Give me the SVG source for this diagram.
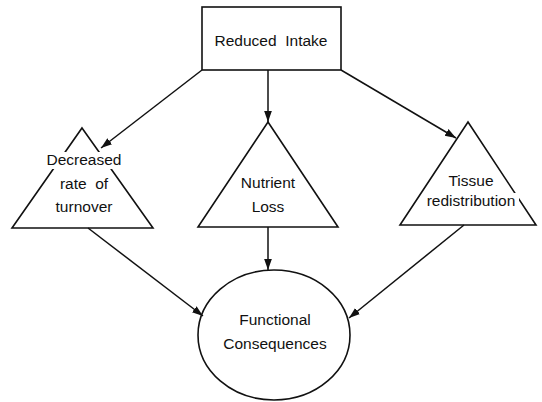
<svg xmlns="http://www.w3.org/2000/svg" width="542" height="402" viewBox="0 0 542 402">
<style>
.shape{fill:none;stroke:#111;stroke-width:1.6}
.edge{fill:none;stroke:#111;stroke-width:1.5}
text{font-family:"Liberation Sans",Arial,sans-serif;font-size:15.5px;fill:#111;text-anchor:middle}
.bg{fill:#fff;stroke:none}
</style>
<defs>
<marker id="ah" viewBox="0 0 10 10" refX="10" refY="5" markerWidth="11" markerHeight="11" markerUnits="userSpaceOnUse" orient="auto">
<path d="M0,1.5 L10,5 L0,8.5 Z" fill="#111"/>
</marker>
</defs>
<rect width="542" height="402" fill="#fff"/>
<g id="connectors">
<line class="edge" x1="202" y1="70" x2="101" y2="148" marker-end="url(#ah)"/>
<line class="edge" x1="268" y1="70" x2="268" y2="122" marker-end="url(#ah)"/>
<line class="edge" x1="341" y1="70" x2="456" y2="138" marker-end="url(#ah)"/>
<line class="edge" x1="88" y1="228" x2="203" y2="316" marker-end="url(#ah)"/>
<line class="edge" x1="268" y1="227" x2="268" y2="270" marker-end="url(#ah)"/>
<line class="edge" x1="464" y1="225" x2="349" y2="318" marker-end="url(#ah)"/>
</g>
<g id="reduced-intake">
<rect class="shape" x="202" y="7" width="139" height="63"/>
<text x="271" y="46" xml:space="preserve">Reduced  Intake</text>
</g>
<g id="decreased-turnover">
<polygon class="shape" points="82,128 153,228 12,228"/>
<rect class="bg" x="44" y="152" width="80" height="17"/>
<rect class="bg" x="55" y="176" width="58" height="17"/>
<rect class="bg" x="50" y="199" width="68" height="17"/>
<text x="84" y="165">Decreased</text>
<text x="84" y="189" xml:space="preserve">rate  of</text>
<text x="84" y="212">turnover</text>
</g>
<g id="nutrient-loss">
<polygon class="shape" points="268,122 338,227 198,227"/>
<text x="268" y="188">Nutrient</text>
<text x="268" y="212">Loss</text>
</g>
<g id="tissue-redistribution">
<polygon class="shape" points="468,122 536,225 400,225"/>
<rect class="bg" x="423" y="193" width="96" height="17"/>
<text x="471" y="186">Tissue</text>
<text x="471" y="206">redistribution</text>
</g>
<g id="functional-consequences">
<ellipse class="shape" cx="274" cy="335" rx="76" ry="65"/>
<text x="275" y="325">Functional</text>
<text x="275" y="349">Consequences</text>
</g>
</svg>
